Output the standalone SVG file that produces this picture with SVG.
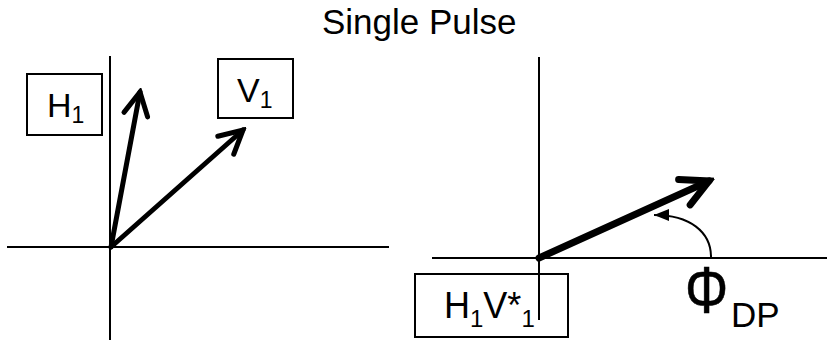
<svg xmlns="http://www.w3.org/2000/svg" width="827" height="341" viewBox="0 0 827 341">
  <style>
    .t { font-family: "Liberation Sans", Arial, sans-serif; fill: #000; }
    .box { fill: none; stroke: #000; stroke-width: 2; }
    .axis { stroke: #000; stroke-width: 2; fill: none; }
    .vec { stroke: #000; stroke-width: 5; fill: none; stroke-linecap: round; }
    .vecb { stroke: #000; stroke-width: 7; fill: none; stroke-linecap: round; }
    .arc { stroke: #000; stroke-width: 2; fill: none; }
  </style>
  <defs>
    <marker id="chev" markerUnits="userSpaceOnUse" viewBox="-30 -16 34 32" refX="0" refY="0" markerWidth="34" markerHeight="32" orient="auto">
      <path d="M-23,-12 L0,0 L-23,12" fill="none" stroke="#000" stroke-width="5" stroke-linejoin="miter" stroke-linecap="round"/>
    </marker>
    <marker id="chevb" markerUnits="userSpaceOnUse" viewBox="-36 -20 42 40" refX="0" refY="0" markerWidth="42" markerHeight="40" orient="auto">
      <path d="M-27,-14 L0,0 L-27,14" fill="none" stroke="#000" stroke-width="7" stroke-linejoin="miter" stroke-linecap="round"/>
    </marker>
    <marker id="tri" markerUnits="userSpaceOnUse" viewBox="-16 -7 18 14" refX="0" refY="0" markerWidth="18" markerHeight="14" orient="auto">
      <path d="M-15,-6 L0,0 L-15,6 Z" fill="#000"/>
    </marker>
  </defs>

  <g id="title">
    <text class="t" x="322" y="34" font-size="35">Single Pulse</text>
  </g>

  <g id="left-axes">
    <line class="axis" x1="110" y1="56" x2="110" y2="340"/>
    <line class="axis" x1="7" y1="247" x2="389" y2="247"/>
  </g>

  <g id="right-axes">
    <line class="axis" x1="539" y1="57" x2="539" y2="320"/>
    <line class="axis" x1="432" y1="258" x2="827" y2="258"/>
  </g>

  <g id="H1">
    <rect class="box" x="27" y="74" width="75" height="61"/>
    <text class="t" x="47" y="117" font-size="34">H<tspan font-size="23" dy="6">1</tspan></text>
  </g>

  <g id="V1">
    <rect class="box" x="218" y="59" width="75" height="59"/>
    <text class="t" x="237" y="102" font-size="34">V<tspan font-size="23" dy="6">1</tspan></text>
  </g>

  <g id="H1V1">
    <rect class="box" x="415" y="274" width="153" height="63"/>
    <text class="t" x="444" y="318" font-size="36">H<tspan font-size="24" dy="9">1</tspan><tspan dy="-9">V*</tspan><tspan font-size="24" dy="9">1</tspan></text>
  </g>

  <g id="phiDP">
    <text class="t" transform="translate(685,313) scale(0.82,1)" x="0" y="0" font-size="66" stroke="#000" stroke-width="0.6">Φ</text>
    <text class="t" x="731" y="327" font-size="35">DP</text>
  </g>

  <g id="connectors">
    <line class="vec" x1="111" y1="247" x2="140" y2="92" marker-end="url(#chev)"/>
    <line class="vec" x1="111" y1="247" x2="243" y2="130" marker-end="url(#chev)"/>
    <line class="vecb" x1="539" y1="258" x2="709" y2="181" marker-end="url(#chevb)"/>
    <path class="arc" d="M711,257 C711,232 690,215 654,215" marker-end="url(#tri)"/>
  </g>
</svg>
